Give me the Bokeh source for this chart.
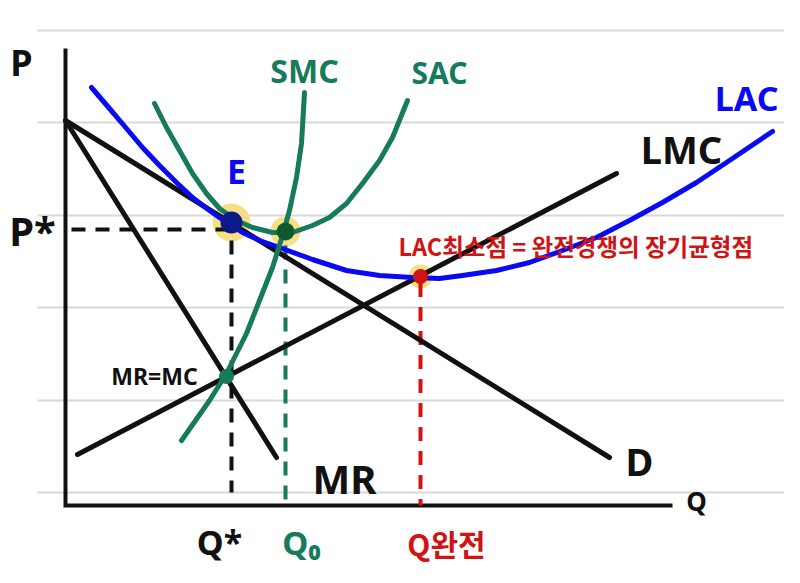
from bokeh.plotting import figure
from bokeh.models import Range1d
from bokeh.core.properties import value
from bokeh.embed import file_html
from bokeh.resources import INLINE

# ---------------- data (Q on x, P on y) ----------------
notebook_p = [9.5, 7.66, 5.8, 3.96, 2.1, 0.26]
axis_q_max = 12.14
axis_p_max = 9.14

demand_q = [0.0, 10.88]
demand_p = [7.7, 0.96]
mr_q = [0.0, 4.22]
mr_p = [7.7, 0.96]
lmc_q = [0.24, 11.02]
lmc_p = [1.02, 6.64]

lac_q = [0.52, 0.88, 1.22, 1.54, 1.88, 2.22, 2.54, 2.88, 3.22, 3.54, 3.88, 4.28,
         4.94, 5.62, 6.28, 6.94, 7.48, 7.94, 8.62, 9.28, 9.94, 10.62, 11.28,
         11.94, 12.62, 13.28, 14.14]
lac_p = [8.36, 7.94, 7.54, 7.16, 6.8, 6.46, 6.16, 5.9, 5.66, 5.46, 5.3, 5.16,
         4.92, 4.7, 4.6, 4.56, 4.54, 4.6, 4.7, 4.86, 5.1, 5.36, 5.7,
         6.06, 6.46, 6.9, 7.48]

sac_q = [1.78, 2.02, 2.28, 2.54, 2.82, 3.08, 3.42, 3.74, 4.14, 4.54, 4.94,
         5.28, 5.62, 5.94, 6.28, 6.54, 6.84]
sac_p = [8.04, 7.56, 7.1, 6.64, 6.24, 5.94, 5.7, 5.56, 5.46, 5.46, 5.6,
         5.76, 6.04, 6.44, 6.9, 7.36, 8.1]

smc_q = [2.32, 2.88, 3.22, 3.62, 3.88, 4.14, 4.34, 4.48, 4.62, 4.72, 4.78]
smc_p = [1.3, 2.1, 2.64, 3.44, 4.1, 4.76, 5.4, 5.9, 6.56, 7.24, 8.26]

e_q, e_p = 3.32, 5.66          # E
q0_q, q0_p = 4.4, 5.48         # SAC minimum
qc_q, qc_p = 7.1, 4.58         # LAC minimum
mrmc_q, mrmc_p = 3.22, 2.58    # MR = MC
p_star = 5.52
q_star = 3.32

BLACK = "#111111"
GREEN = "#167a5c"
BLUE = "#0a0af2"
RED = "#d01414"
NAVY = "#0b1a86"
HALO = "#f7df86"

p = figure(width=784, height=567, x_range=Range1d(-1.30, 14.38),
           y_range=Range1d(-1.24, 10.10), output_backend="svg",
           toolbar_location=None, min_border=0)
p.xaxis.visible = False
p.yaxis.visible = False
p.grid.visible = False
p.outline_line_color = None
p.background_fill_color = "white"

# notebook ruled lines
p.segment(x0=[-0.56] * len(notebook_p), x1=[15.0] * len(notebook_p),
          y0=notebook_p, y1=notebook_p, line_color="#d9d9d9", line_width=2)

# yellow halos (under curves)
p.scatter([e_q], [e_p], size=38, color=HALO, line_color=None)
p.scatter([q0_q], [q0_p], size=30, color=HALO, line_color=None)
p.scatter([qc_q], [qc_p], size=24, color=HALO, line_color=None)

# axes
p.line([0, 0, axis_q_max], [axis_p_max, 0, 0], line_color=BLACK, line_width=4,
       line_join="miter")

# dashed guides
p.line([0.12, e_q - 0.12], [p_star, p_star], line_color=BLACK, line_width=4,
       line_dash="14 10")
p.line([q_star, q_star], [5.3, 0.26], line_color=BLACK, line_width=4,
       line_dash="14 10")
p.line([q0_q, q0_q], [5.2, 0.1], line_color=GREEN, line_width=4,
       line_dash="14 10")
p.line([qc_q, qc_q], [4.45, 0.0], line_color=RED, line_width=4,
       line_dash="14 10")

# straight lines
lw = 5
p.line(demand_q, demand_p, line_color=BLACK, line_width=lw, line_cap="round")
p.line(mr_q, mr_p, line_color=BLACK, line_width=lw, line_cap="round")
p.line(lmc_q, lmc_p, line_color=BLACK, line_width=lw, line_cap="round")

# curves
p.line(lac_q, lac_p, line_color=BLUE, line_width=lw, line_cap="round", line_join="round")
p.line(sac_q, sac_p, line_color=GREEN, line_width=lw, line_cap="round", line_join="round")
p.line(smc_q, smc_p, line_color=GREEN, line_width=lw, line_cap="round", line_join="round")

# points
p.scatter([e_q], [e_p], size=22, color=NAVY, line_color=None)
p.scatter([q0_q], [q0_p], size=18, color="#0e5a2e", line_color=None)
p.scatter([qc_q], [qc_p], size=15, color=RED, line_color=None)
p.scatter([mrmc_q], [mrmc_p], size=15, color=GREEN, line_color=None)

LAT = value("Noto Sans")
KR = value("Noto Sans CJK KR")

def label(x, y, t, color, size, font=LAT, align="center", style="bold"):
    p.text([x], [y], text=[t], text_color=color, text_font=font,
           text_font_size=size, text_align=align, text_baseline="middle",
           text_font_style=style)

label(-0.88, 8.86, "P", BLACK, "36px")
label(-0.66, 5.5, "P*", BLACK, "40px")
label(12.62, 0.1, "Q", BLACK, "26px")
label(4.78, 8.7, "SMC", GREEN, "32px")
label(7.48, 8.66, "SAC", GREEN, "30px")
label(14.26, 8.16, "LAC", BLUE, "34px", align="right")
label(12.32, 7.14, "LMC", BLACK, "38px")
label(3.42, 6.7, "E", BLUE, "34px")
label(1.78, 2.6, "MR=MC", BLACK, "23px")
label(5.58, 0.54, "MR", BLACK, "40px")
label(11.48, 0.9, "D", BLACK, "38px")
label(3.08, -0.72, "Q*", BLACK, "34px")
label(4.72, -0.74, "Q₀", GREEN, "33px")
label(7.62, -0.74, "Q완전", RED, "30px", font=KR)
label(6.66, 5.2, "LAC최소점 = 완전경쟁의 장기균형점", RED, "23.5px", font=KR, align="left")

open("out.html", "w").write(file_html(p, INLINE))
